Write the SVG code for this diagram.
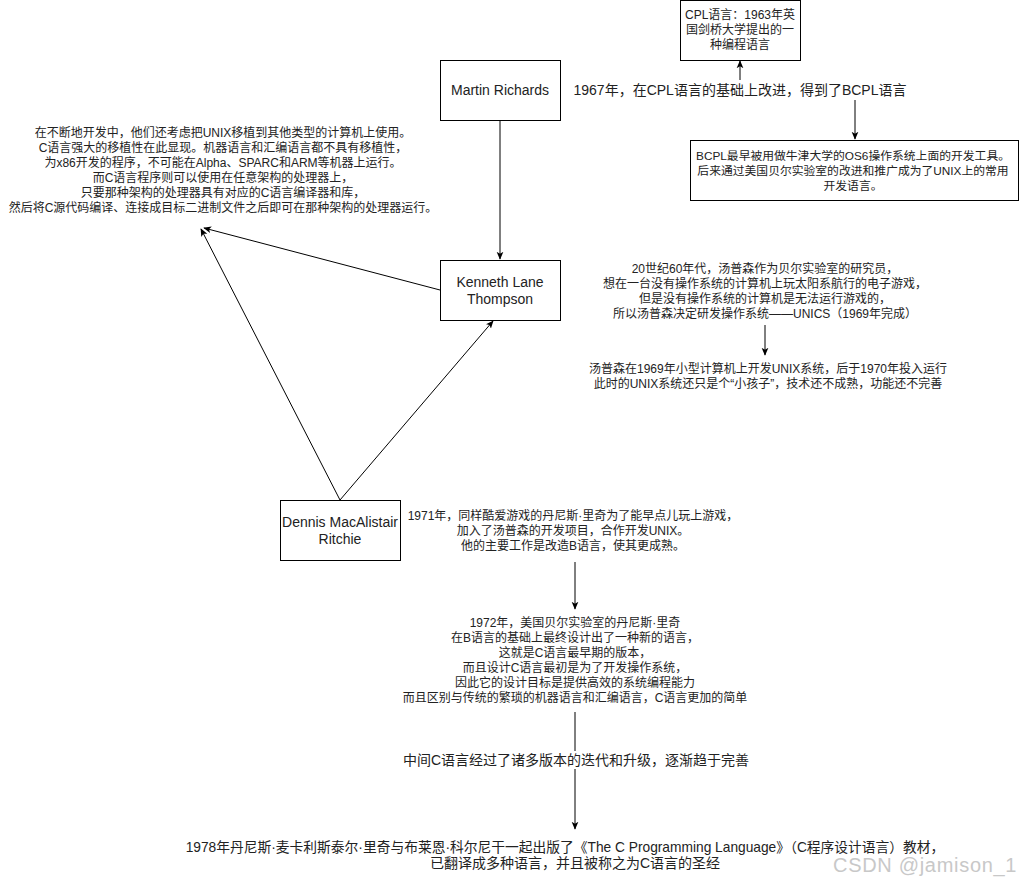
<svg xmlns="http://www.w3.org/2000/svg" width="1021" height="881" viewBox="0 0 1021 881">
<defs>
<style>
text{font-family:"Liberation Sans","Noto Sans CJK SC",sans-serif;fill:#222;text-anchor:middle;dominant-baseline:central}
.t12{font-size:12px}
.t14{font-size:14px}
.node rect{fill:#fff;stroke:#000;stroke-width:1}
.edge{stroke:#000;stroke-width:1;fill:none;marker-end:url(#arr)}
.wm{font-size:20px;fill:#c8c8c8;text-anchor:start;dominant-baseline:alphabetic;letter-spacing:0.7px}
</style>
<marker id="arr" viewBox="0 0 10 10" refX="9" refY="5" markerWidth="8" markerHeight="8" markerUnits="userSpaceOnUse" orient="auto">
<path d="M0,0.8 L10,5 L0,9.2 L2.5,5 Z" fill="#000"/>
</marker>
</defs>
<rect width="1021" height="881" fill="#fff"/>

<g id="connectors">
<line class="edge" x1="500" y1="120" x2="500" y2="259"/>
<line class="edge" x1="740" y1="80" x2="740" y2="61"/>
<line class="edge" x1="855" y1="100" x2="855" y2="139"/>
<line class="edge" x1="440" y1="290" x2="204" y2="228"/>
<line class="edge" x1="340" y1="500" x2="201" y2="229"/>
<line class="edge" x1="340" y1="500" x2="493" y2="321"/>
<line class="edge" x1="765" y1="325" x2="765" y2="355"/>
<line class="edge" x1="575" y1="562" x2="575" y2="609"/>
<line class="edge" x1="575" y1="712" x2="575" y2="829"/>
</g>

<g id="cpl" class="node">
<rect x="680.5" y="0.5" width="120" height="60"/>
<text class="t12" x="740" y="15">CPL语言：1963年英</text>
<text class="t12" x="740" y="30">国剑桥大学提出的一</text>
<text class="t12" x="740" y="45">种编程语言</text>
</g>

<g id="martin" class="node">
<rect x="440.5" y="60.5" width="120" height="60"/>
<text class="t14" x="500" y="90">Martin Richards</text>
</g>

<g id="label-1967">
<rect x="570" y="81" width="340" height="18" fill="#fff"/>
<text class="t14" x="740" y="90">1967年，在CPL语言的基础上改进，得到了BCPL语言</text>
</g>

<g id="bcpl" class="node">
<rect x="690.5" y="140.5" width="328" height="60"/>
<text class="t12" x="853" y="156" style="font-size:11.8px">BCPL最早被用做牛津大学的OS6操作系统上面的开发工具。</text>
<text class="t12" x="853" y="171" style="font-size:11.8px">后来通过美国贝尔实验室的改进和推广成为了UNIX上的常用</text>
<text class="t12" x="853" y="186" style="font-size:11.8px">开发语言。</text>
</g>

<g id="portability">
<text class="t12" x="223" y="133">在不断地开发中，他们还考虑把UNIX移植到其他类型的计算机上使用。</text>
<text class="t12" x="223" y="148">C语言强大的移植性在此显现。机器语言和汇编语言都不具有移植性，</text>
<text class="t12" x="223" y="163">为x86开发的程序，不可能在Alpha、SPARC和ARM等机器上运行。</text>
<text class="t12" x="223" y="178">而C语言程序则可以使用在任意架构的处理器上，</text>
<text class="t12" x="223" y="193">只要那种架构的处理器具有对应的C语言编译器和库，</text>
<text class="t12" x="223" y="208">然后将C源代码编译、连接成目标二进制文件之后即可在那种架构的处理器运行。</text>
</g>

<g id="kenneth" class="node">
<rect x="440.5" y="260.5" width="120" height="60"/>
<text class="t14" x="500" y="282">Kenneth Lane</text>
<text class="t14" x="500" y="299">Thompson</text>
</g>

<g id="unics">
<text class="t12" x="765" y="269">20世纪60年代，汤普森作为贝尔实验室的研究员，</text>
<text class="t12" x="765" y="284">想在一台没有操作系统的计算机上玩太阳系航行的电子游戏，</text>
<text class="t12" x="765" y="299">但是没有操作系统的计算机是无法运行游戏的，</text>
<text class="t12" x="765" y="314">所以汤普森决定研发操作系统——UNICS（1969年完成）</text>
</g>

<g id="unix">
<text class="t12" x="768" y="369">汤普森在1969年小型计算机上开发UNIX系统，后于1970年投入运行</text>
<text class="t12" x="768" y="384">此时的UNIX系统还只是个“小孩子”，技术还不成熟，功能还不完善</text>
</g>

<g id="dennis" class="node">
<rect x="280.5" y="500.5" width="120" height="60"/>
<text class="t14" x="340" y="522">Dennis MacAlistair</text>
<text class="t14" x="340" y="539">Ritchie</text>
</g>

<g id="y1971">
<text class="t12" x="573" y="516">1971年，同样酷爱游戏的丹尼斯·里奇为了能早点儿玩上游戏，</text>
<text class="t12" x="573" y="531">加入了汤普森的开发项目，合作开发UNIX。</text>
<text class="t12" x="573" y="546">他的主要工作是改造B语言，使其更成熟。</text>
</g>

<g id="y1972">
<text class="t12" x="575" y="623">1972年，美国贝尔实验室的丹尼斯·里奇</text>
<text class="t12" x="575" y="638">在B语言的基础上最终设计出了一种新的语言，</text>
<text class="t12" x="575" y="653">这就是C语言最早期的版本，</text>
<text class="t12" x="575" y="668">而且设计C语言最初是为了开发操作系统，</text>
<text class="t12" x="575" y="683">因此它的设计目标是提供高效的系统编程能力</text>
<text class="t12" x="575" y="698">而且区别与传统的繁琐的机器语言和汇编语言，C语言更加的简单</text>
</g>

<g id="label-evolve">
<rect x="400" y="751" width="352" height="18" fill="#fff"/>
<text class="t14" x="576" y="760">中间C语言经过了诸多版本的迭代和升级，逐渐趋于完善</text>
</g>

<g id="y1978">
<text class="t14" x="565" y="847" style="font-size:13.75px">1978年丹尼斯·麦卡利斯泰尔·里奇与布莱恩·科尔尼干一起出版了《The C Programming Language》（C程序设计语言）教材，</text>
<text class="t14" x="575" y="863">已翻译成多种语言，并且被称之为C语言的圣经</text>
</g>

<text class="wm" x="833" y="872">CSDN @jamison_1</text>
</svg>
